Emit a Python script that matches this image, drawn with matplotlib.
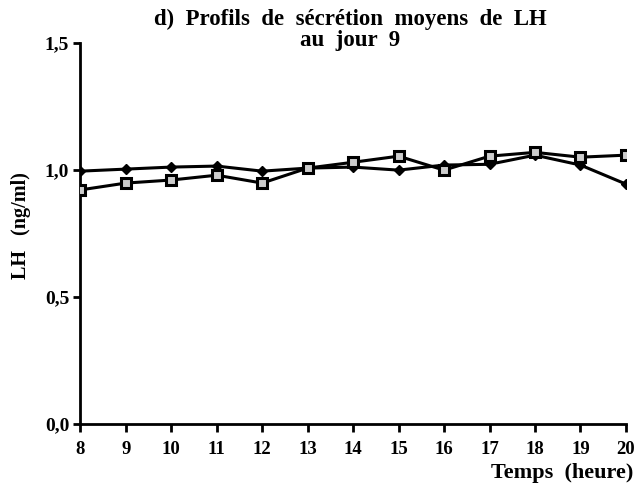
import matplotlib.pyplot as plt
from matplotlib.ticker import FuncFormatter

# Mean LH secretion profiles, day 9
heures = [8, 9, 10, 11, 12, 13, 14, 15, 16, 17, 18, 19, 20]
lh_losange = [0.996, 1.004, 1.012, 1.016, 0.996, 1.008, 1.012, 1.000, 1.020, 1.023, 1.059, 1.020, 0.945]
lh_carre = [0.922, 0.949, 0.961, 0.980, 0.949, 1.008, 1.031, 1.055, 1.000, 1.055, 1.070, 1.051, 1.059]

plt.rcParams['font.family'] = ['Liberation Serif', 'DejaVu Serif']
plt.rcParams['font.weight'] = 'bold'

fig = plt.figure(figsize=(6.42, 4.91), dpi=100)
ax = fig.add_axes([0.125, 0.1365, 0.85, 0.7755])

ax.plot(heures, lh_losange, color='black', lw=2.2, marker='D', markersize=5.5,
        markerfacecolor='black', zorder=3)
ax.plot(heures, lh_carre, color='black', lw=2.2, marker='s', markersize=6.5,
        markerfacecolor='0.8', markeredgecolor='black', markeredgewidth=2.2, zorder=4)

ax.set_xlim(8, 20)
ax.set_ylim(0, 1.5)
ax.set_xticks(heures)
ax.set_yticks([0, 0.5, 1.0, 1.5])
ax.yaxis.set_major_formatter(FuncFormatter(lambda v, p: f'{v:.1f}'.replace('.', ',')))

for s in ['top', 'right']:
    ax.spines[s].set_visible(False)
for s in ['left', 'bottom']:
    ax.spines[s].set_linewidth(2)
ax.tick_params(axis='both', direction='out', width=2)
ax.tick_params(axis='x', length=6, pad=6, labelsize=13.5)
ax.tick_params(axis='y', length=5, pad=3, labelsize=14)

fig.text(0.032, 0.54, 'LH   (ng/ml)', rotation=90, ha='center', va='center',
         fontsize=14.5, fontweight='bold')
fig.text(0.986, 0.016, 'Temps  (heure)', ha='right', va='bottom',
         fontsize=16, fontweight='bold')
fig.text(0.545, 0.94, 'd)  Profils  de  sécrétion  moyens  de  LH\nau  jour  9',
         ha='center', va='center', fontsize=16.5, fontweight='bold', linespacing=1.0)

fig.savefig('out.png', dpi=100)
